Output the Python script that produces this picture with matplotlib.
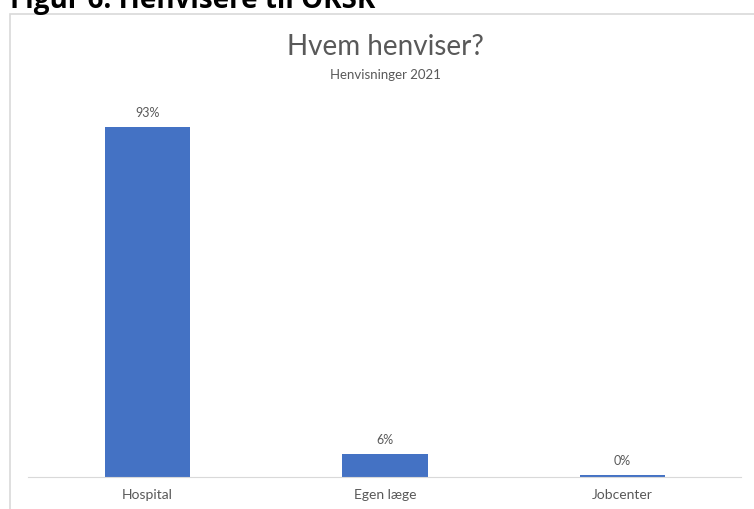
import matplotlib.pyplot as plt
from matplotlib.patches import Rectangle

categories = ["Hospital", "Egen læge", "Jobcenter"]
shares = [93, 6, 0.4]
labels = ["93%", "6%", "0%"]

BLUE = "#4472c4"
GRAY = "#595959"

plt.rcParams["font.family"] = ["Lato", "DejaVu Sans"]

fig = plt.figure(figsize=(7.54, 5.10), dpi=100)
W, H = 754, 510

# chart frame (cropped on right and bottom)
fig.patches.append(Rectangle((10 / W, -0.1), 1.2, 1 - 15 / H + 0.1,
                             transform=fig.transFigure, fill=False,
                             edgecolor="#d9d9d9", linewidth=1.2))

# heading above the frame, cut off by the top edge as in the source
fig.text(10 / W, 1 - 8 / H, "Figur 6: Henvisere til OKSK", fontsize=20,
         fontweight="bold", color="black", va="baseline", ha="left",
         family=["Open Sans", "DejaVu Sans"])

ax = fig.add_axes([28.5 / W, 1 - 478 / H, (741 - 28.5) / W, (478 - 102) / H])
x = range(len(categories))
ax.bar(x, shares, width=0.36, color=BLUE)
for i, (v, lab) in enumerate(zip(shares, labels)):
    ax.annotate(lab, (i, v), xytext=(0, 7), textcoords="offset points",
                ha="center", va="bottom", fontsize=9, color=GRAY)

ax.set_xlim(-0.5, 2.5)
ax.set_ylim(0, 100)
ax.set_xticks(list(x))
ax.set_xticklabels(categories, fontsize=10, color=GRAY)
ax.tick_params(axis="x", length=0, pad=8)
ax.set_yticks([])
for s in ("top", "right", "left"):
    ax.spines[s].set_visible(False)
ax.spines["bottom"].set_color("#d9d9d9")

fig.text(385 / W, 1 - 47 / H, "Hvem henviser?", fontsize=20, color=GRAY,
         ha="center", va="center")
fig.text(385 / W, 1 - 75 / H, "Henvisninger 2021", fontsize=9.5, color=GRAY,
         ha="center", va="center")

fig.savefig("out.png", dpi=100)
